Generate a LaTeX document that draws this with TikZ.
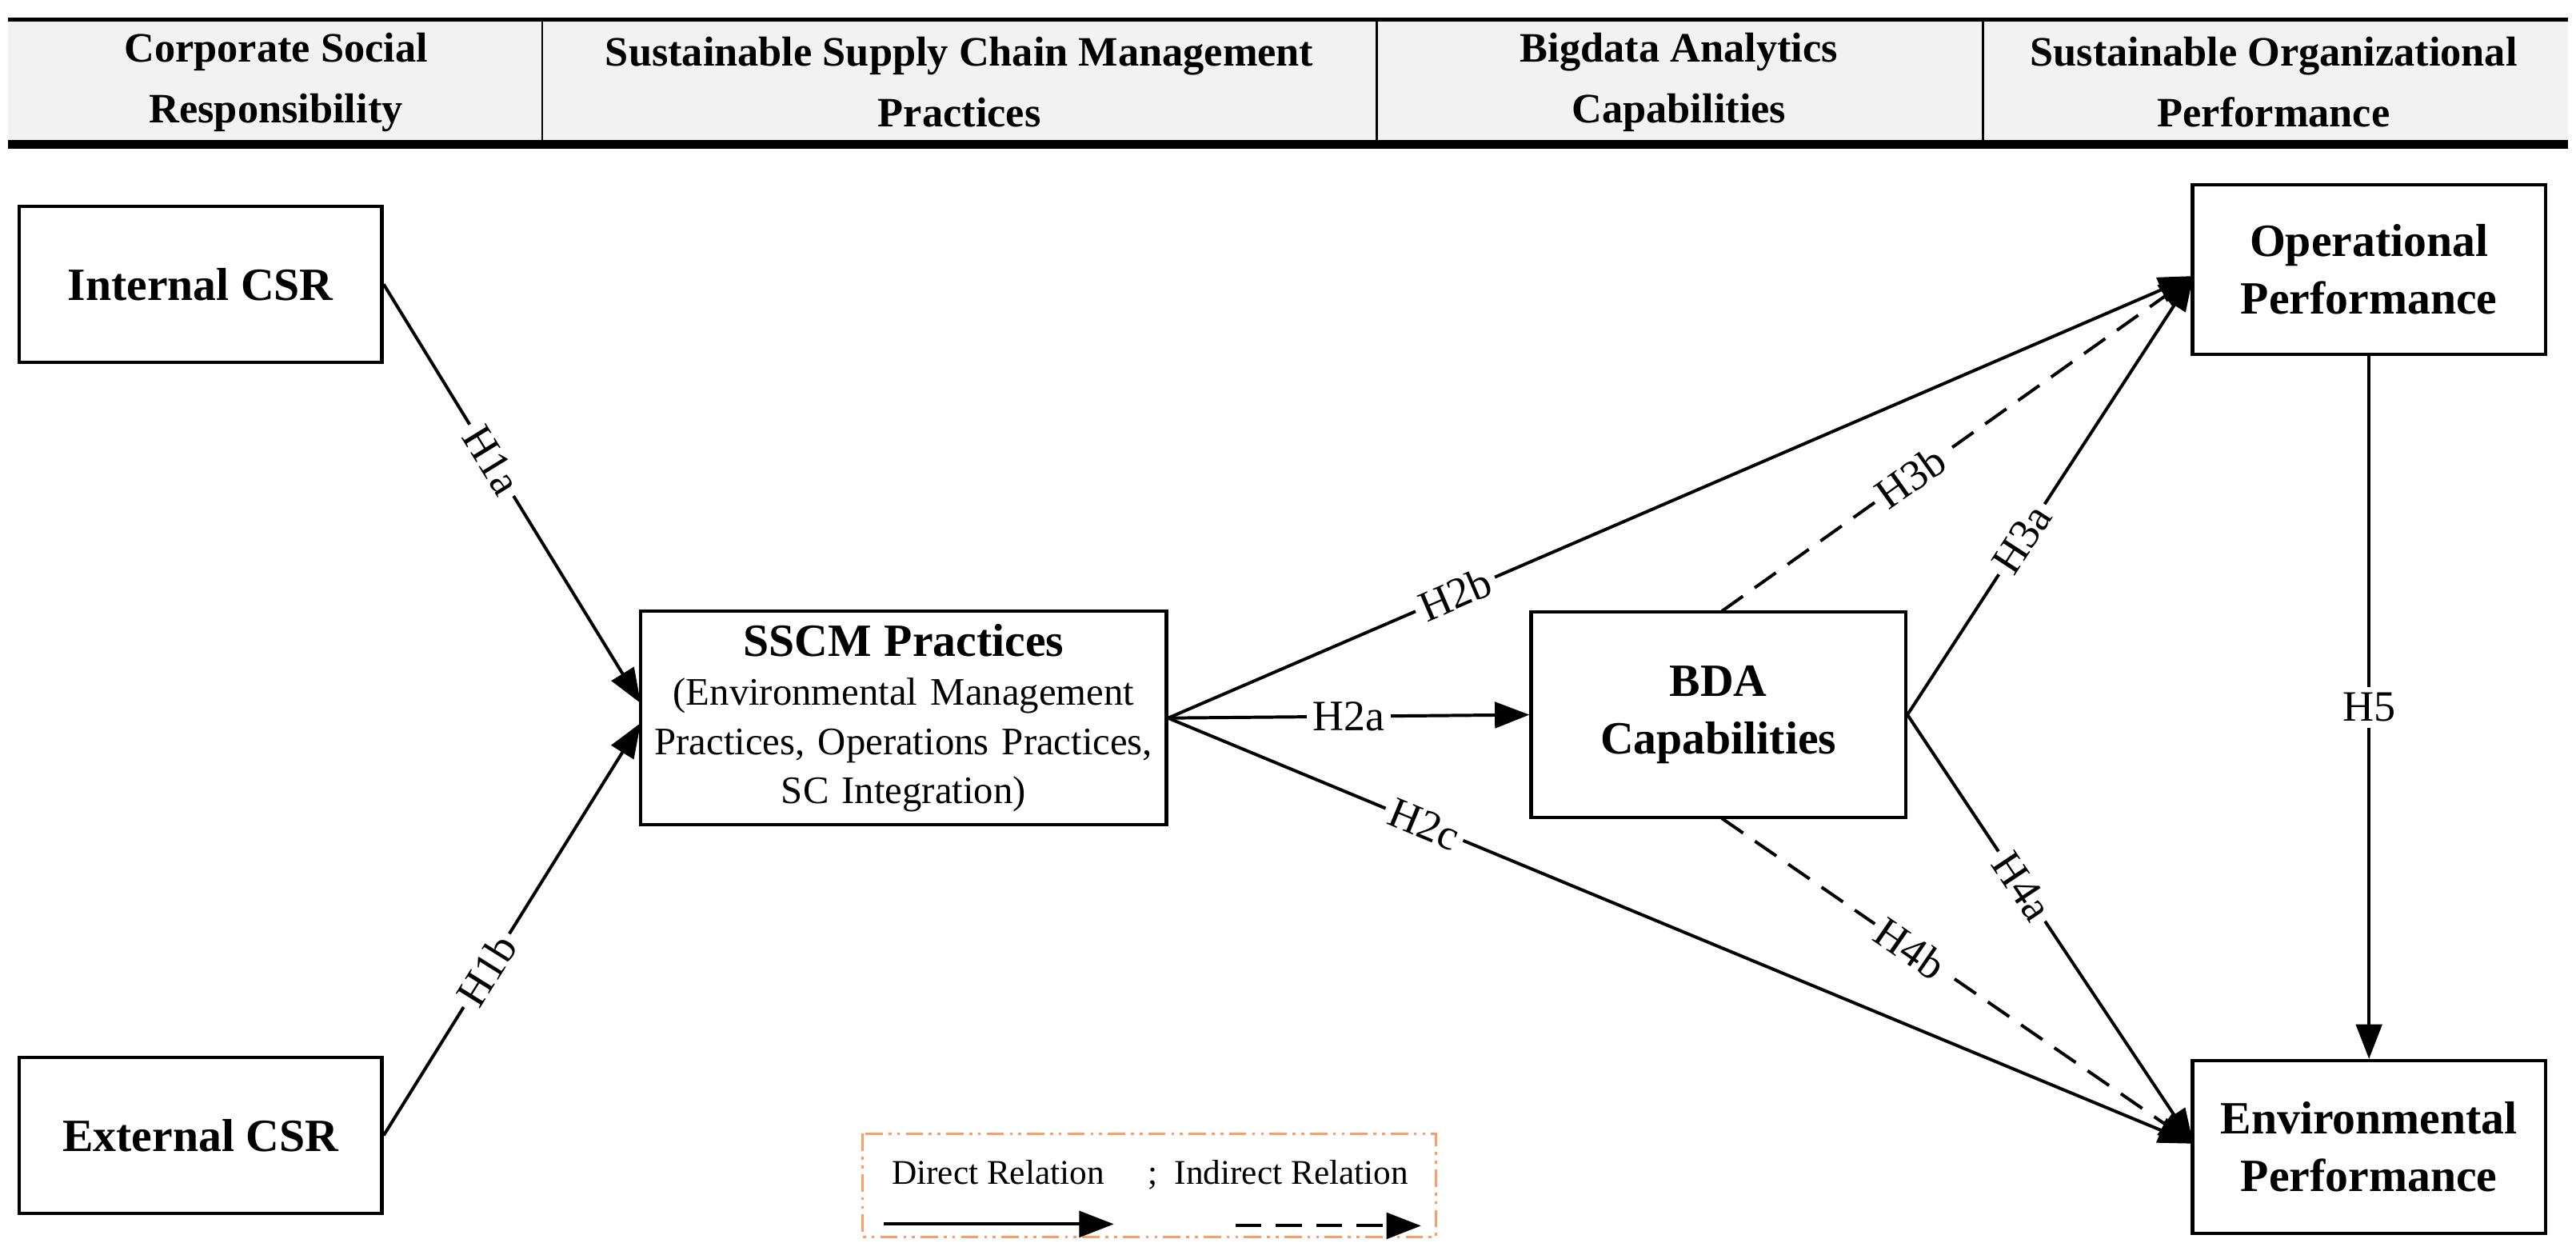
\documentclass[tikz,border=0pt]{standalone}
\usepackage{fontspec}
\setmainfont{Liberation Serif}
\usetikzlibrary{arrows.meta}
\begin{document}
\begin{tikzpicture}[x=0.02cm,y=-0.02cm,
  box/.style={draw,line width=1.2pt,fill=white,align=center,inner sep=2pt,font=\fontsize{16}{20}\selectfont\bfseries},
  arr/.style={line width=1.1pt,-{Triangle[length=12pt,width=9pt]}},
  dsh/.style={dash pattern=on 9pt off 5pt},
  lab/.style={fill=white,font=\fontsize{15}{18}\selectfont,inner sep=2pt,sloped},
  hd/.style={align=center,font=\fontsize{14.5}{21}\selectfont\bfseries}]
\useasboundingbox (0,0) rectangle (1568,761);
% header
\fill[gray!10] (5,12) rectangle (1563,88);
\draw[line width=1.3pt] (5,12) -- (1563,12);
\draw[line width=3pt] (5,88) -- (1563,88);
\foreach \x in {330,838,1207} \draw[line width=0.6pt] (\x,12) -- (\x,88);
\node[hd] (c1) at (168,50) {Corporate Social\\Responsibility};
\node[hd] (c2) at (584,50) {Sustainable Supply Chain Management\\Practices};
\node[hd] (c3) at (1022,50) {Bigdata Analytics\\Capabilities};
\node[hd] (c4) at (1384,50) {Sustainable Organizational\\Performance};
% boxes
\node[box,minimum width=4.42cm,minimum height=1.9cm] (ic) at (122,173) {Internal CSR};
\node[box,minimum width=4.42cm,minimum height=1.9cm] (ec) at (122,691) {External CSR};
\node[box,minimum width=6.4cm,text width=6.1cm,minimum height=2.6cm,font=\fontsize{13.5}{17}\selectfont] (ss) at (550,437) {{\fontsize{16}{20}\selectfont\bfseries SSCM Practices}\\(Environmental Management\\Practices, Operations Practices,\\SC Integration)};
\node[box,minimum width=4.56cm,minimum height=2.5cm] (bd) at (1046,435) {BDA\\Capabilities};
\node[box,minimum width=4.3cm,minimum height=2.06cm] (op) at (1442,164) {Operational\\Performance};
\node[box,minimum width=4.3cm,minimum height=2.1cm] (en) at (1442,698) {Environmental\\Performance};
\coordinate (ssw1) at (390,428);
\coordinate (ssw2) at (390,440);
\coordinate (opw) at (1335,168);
\coordinate (enw) at (1335,696);
\coordinate (bdn) at (1048,372);
\coordinate (bds) at (1048,498);
% edges
\draw[arr] (ic.east) -- node[lab,pos=0.42]{H1a} (ssw1);
\draw[arr] (ec.east) -- node[lab,pos=0.4]{H1b} (ssw2);
\draw[arr] (ss.east) -- node[lab,pos=0.28]{H2b} (opw);
\draw[arr] (ss.east) -- node[lab,pos=0.5]{H2a} (bd.west);
\draw[arr] (ss.east) -- node[lab,pos=0.25]{H2c} (enw);
\draw[arr,dsh] (bdn) -- node[lab,pos=0.4]{H3b} (opw);
\draw[arr] (bd.east) -- node[lab,pos=0.4]{H3a} (opw);
\draw[arr] (bd.east) -- node[lab,pos=0.4]{H4a} (enw);
\draw[arr,dsh] (bds) -- node[lab,pos=0.4]{H4b} (enw);
\draw[arr] (op.south) -- node[lab,sloped=false]{H5} (en.north);
% legend
\draw[orange!70!red!60,line width=0.9pt,dash pattern=on 6pt off 2pt on 1pt off 2pt on 1pt off 2pt] (525,690) rectangle (874,753);
\node[font=\fontsize{12}{14}\selectfont] (lg) at (700,715) {Direct Relation\quad\ ;\ \ Indirect Relation};
\coordinate (l1a) at (538,745); \coordinate (l1b) at (678,745);
\coordinate (l2a) at (752,746); \coordinate (l2b) at (865,746);
\draw[arr] (l1a) -- (l1b);
\draw[arr,dsh] (l2a) -- (l2b);
\end{tikzpicture}
\end{document}
